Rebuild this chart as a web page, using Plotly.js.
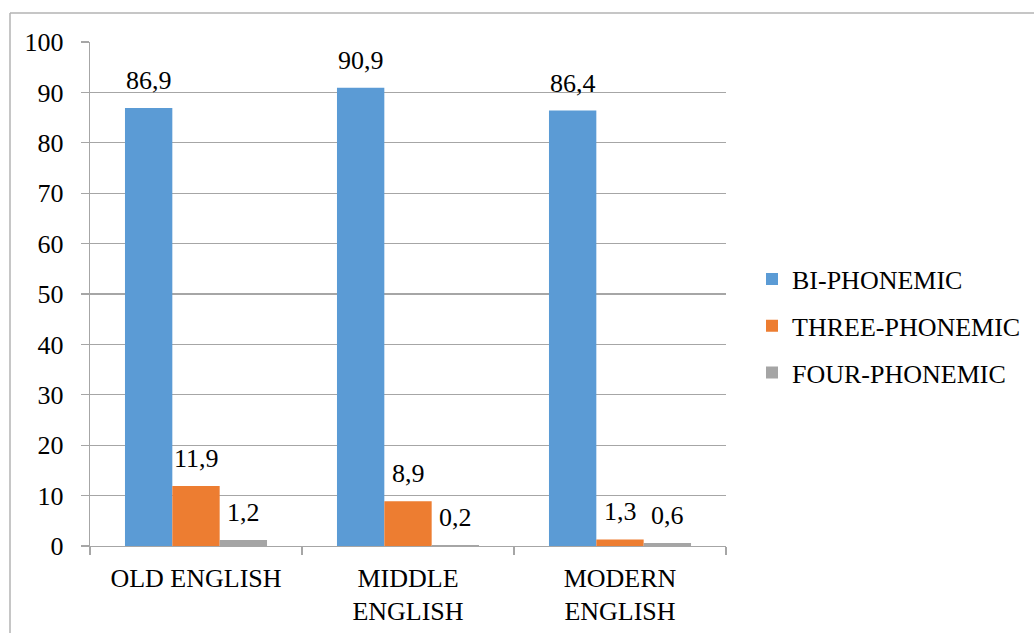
<!DOCTYPE html>
<html>
<head>
<meta charset="utf-8">
<script src="https://cdn.plot.ly/plotly-3.0.1.min.js"></script>
<style>
  html, body { margin: 0; padding: 0; background: #ffffff; }
  #chart { width: 1034px; height: 633px; }
  #chart text { font-family: 'Liberation Serif', 'Times New Roman', serif !important; }
</style>
</head>
<body>
<div id="chart"></div>
<script>
const categories = ['OLD ENGLISH', 'MIDDLE<br>ENGLISH', 'MODERN<br>ENGLISH'];
const seriesNames = ['BI-PHONEMIC', 'THREE-PHONEMIC', 'FOUR-PHONEMIC'];
const biPhonemic = [86.9, 90.9, 86.4];
const threePhonemic = [11.9, 8.9, 1.3];
const fourPhonemic = [1.2, 0.2, 0.6];
const yTicks = [0, 10, 20, 30, 40, 50, 60, 70, 80, 90, 100];

const seriesValues = [biPhonemic, threePhonemic, fourPhonemic];
const colors = ['#5B9BD5', '#ED7D31', '#A5A5A5'];
const FONT = 'Liberation Serif';
const FS = 26;

const W = 1034, H = 633;
const margin = { l: 90, r: 308, t: 42, b: 87, autoexpand: false };
const plotW = W - margin.l - margin.r;
const plotH = H - margin.t - margin.b;
const bargap = 0.33;
const barPx = plotW / categories.length * (1 - bargap) / seriesValues.length;

const traces = seriesValues.map((vals, i) => ({
  type: 'bar',
  name: seriesNames[i],
  x: categories,
  y: vals,
  marker: { color: colors[i], line: { width: 0 } },
  legendgroup: 'g' + i,
  hoverinfo: 'skip'
}));

const annotations = [];
seriesValues.forEach((vals, i) => {
  vals.forEach((v, j) => {
    annotations.push({
      x: categories[j], y: v, xref: 'x', yref: 'y',
      text: String(v).replace('.', ','),
      showarrow: false,
      xanchor: 'center', yanchor: 'bottom',
      xshift: (i - 1) * barPx,
      yshift: 11,
      font: { family: FONT, size: FS, color: '#000000' }
    });
  });
});

const frameLeft = (10 - margin.l) / plotW;
const frameTop = 1 + (margin.t - 13) / plotH;

const layout = {
  width: W, height: H,
  margin: margin,
  paper_bgcolor: '#ffffff',
  plot_bgcolor: '#ffffff',
  font: { family: FONT, size: FS, color: '#000000' },
  barmode: 'group',
  bargap: bargap,
  bargroupgap: 0,
  showlegend: true,
  legend: {
    xref: 'container', yref: 'container',
    x: 752 / W, xanchor: 'left',
    y: (H - 326) / H, yanchor: 'middle',
    font: { family: FONT, size: FS, color: '#000000' },
    traceorder: 'grouped',
    tracegroupgap: 10,
    bgcolor: 'rgba(0,0,0,0)',
    itemclick: false
  },
  xaxis: {
    type: 'category',
    showgrid: false,
    showline: true,
    linecolor: '#a6a6a6',
    linewidth: 1.3,
    ticks: 'outside',
    tickson: 'boundaries',
    ticklen: 8,
    tickcolor: '#a6a6a6',
    tickwidth: 1.3,
    tickangle: 0,
    ticklabelstandoff: 8,
    automargin: false,
    tickfont: { family: FONT, size: FS, color: '#000000' },
    fixedrange: true
  },
  yaxis: {
    range: [0, 100],
    tickvals: yTicks,
    ticktext: yTicks.map(String),
    showgrid: true,
    gridcolor: '#a6a6a6',
    gridwidth: 1.3,
    showline: true,
    linecolor: '#a6a6a6',
    linewidth: 1.3,
    zeroline: false,
    ticks: 'outside',
    ticklen: 8,
    tickcolor: '#a6a6a6',
    tickwidth: 1.3,
    ticklabelstandoff: 12,
    automargin: false,
    tickfont: { family: FONT, size: FS, color: '#000000' },
    fixedrange: true
  },
  annotations: annotations,
  shapes: [
    { type: 'line', xref: 'paper', yref: 'paper', x0: frameLeft, x1: 2, y0: frameTop, y1: frameTop,
      line: { color: '#b3b3b3', width: 1.5 }, layer: 'below' },
    { type: 'line', xref: 'paper', yref: 'paper', x0: frameLeft, x1: frameLeft, y0: frameTop, y1: -1,
      line: { color: '#b3b3b3', width: 1.5 }, layer: 'below' }
  ]
};

Plotly.newPlot('chart', traces, layout, { displayModeBar: false, staticPlot: true });
</script>
</body>
</html>
